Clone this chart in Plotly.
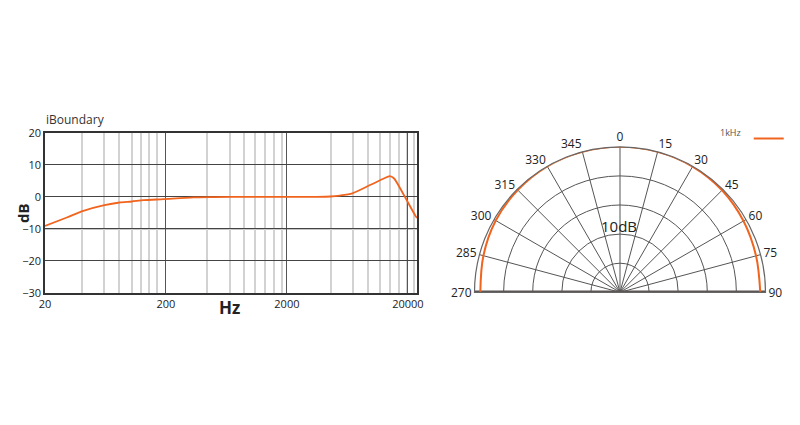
import plotly.graph_objects as go

# ---------------- data ----------------
freq_hz = [20, 30.3, 41.5, 62, 82.7, 104.5, 130.9, 190.6, 338, 500, 1000,
           2000, 3500, 4600, 5470, 6960, 9840, 12650, 14170, 15330, 18390,
           23380, 23800]
response_db = [-9.06, -6.46, -4.38, -2.6, -1.77, -1.46, -1.04, -0.73, -0.2,
               -0.1, 0.0, 0.0, 0.0, 0.1, 0.4, 1.1, 3.75, 5.7, 6.45, 5.8, 0.8,
               -6.25, -6.6]

x_tick_vals = [20, 200, 2000, 20000]
x_tick_text = ["20", "200", "2000", "20000"]
x_minor_vals = [40.7, 62, 82.4, 104.5, 125.4, 145, 168,
                436, 672, 877, 1094, 1325, 1574, 1821,
                4634, 7000, 9380, 11860, 14160, 16830, 19720, 22390]
y_tick_vals = [20, 10, 0, -10, -20, -30]

polar_angles = [270, 285, 300, 315, 330, 345, 0, 15, 30, 45, 60, 75, 90]
polar_tick_vals = [-90, -75, -60, -45, -30, -15, 0, 15, 30, 45, 60, 75, 90]
polar_labels = ["270", "285", "300", "315", "330", "345", "0", "15", "30",
                "45", "60", "75", "90"]
polar_1khz_db = [-2.0, -1.4, -0.7, -0.3, 0.0, 0.0, 0.0, 0.0, -0.1, -0.4,
                 -1.0, -1.6, -1.8]
polar_rings_db = [-40, -30, -20, -10]
polar_range_db = [-50, 0]
baseline_theta = [270, 0, 90]
baseline_r = [0, -50, 0]

ORANGE = "#f0641e"
FONT = "Open Sans"
W, H = 800, 425
OFF = 8  # page body offset


def px(x):
    return (x - OFF) / W


def py(y):
    return 1 - (y - OFF) / H


fig = go.Figure()

fig.add_trace(go.Scatter(
    x=freq_hz, y=response_db, mode="lines",
    line=dict(color=ORANGE, width=1.8, shape="spline", smoothing=0.7),
    showlegend=False, xaxis="x", yaxis="y"))

fig.add_trace(go.Scatterpolar(
    r=baseline_r, theta=baseline_theta, mode="lines",
    line=dict(color="#5a5252", width=3.5), showlegend=False,
    hoverinfo="skip", subplot="polar"))

fig.add_trace(go.Scatterpolar(
    r=polar_1khz_db, theta=polar_angles, mode="lines", name="",
    line=dict(color=ORANGE, width=2, shape="spline"),
    showlegend=True, subplot="polar"))

fig.update_layout(
    width=W, height=H,
    margin=dict(l=0, r=0, t=0, b=0, pad=0, autoexpand=False),
    paper_bgcolor="white", plot_bgcolor="white",
    font=dict(family=FONT, size=11, color="#222"),
    xaxis=dict(
        type="log", domain=[px(45), px(417)],
        range=[1.30103, 4.3766],
        tickmode="array", tickvals=x_tick_vals, ticktext=x_tick_text,
        showgrid=True, gridcolor="#555", gridwidth=1,
        minor=dict(tickmode="array", tickvals=x_minor_vals, showgrid=True,
                   gridcolor="#d2d2d2", gridwidth=1.5, ticks=""),
        showline=True, linecolor="#333", linewidth=1.5, mirror=True,
        ticks="", zeroline=False, automargin=False,
        tickfont=dict(size=11, color="#222"),
        anchor="y"),
    yaxis=dict(
        domain=[py(293), py(132.7)], range=[-30, 20],
        tickmode="array", tickvals=y_tick_vals,
        showgrid=True, gridcolor="#444", gridwidth=1,
        showline=True, linecolor="#333", linewidth=1.5, mirror=True,
        ticks="", zeroline=False, automargin=False,
        tickfont=dict(size=11, color="#222"),
        anchor="x"),
    polar=dict(
        domain=dict(x=[px(474.5), px(765.5)], y=[py(292.3), py(146.8)]),
        sector=[0, 180],
        bgcolor="white",
        radialaxis=dict(range=polar_range_db, tickmode="array",
                        tickvals=polar_rings_db, showticklabels=False,
                        ticks="", showline=False, showgrid=True,
                        gridcolor="#555", gridwidth=1),
        angularaxis=dict(rotation=90, direction="clockwise",
                         tickmode="array", tickvals=polar_tick_vals,
                         ticktext=polar_labels, ticks="",
                         showgrid=True, gridcolor="#555", gridwidth=1,
                         showline=True, linecolor="#666", linewidth=1.2,
                         tickfont=dict(size=12, color="#222")),
    ),
    legend=dict(
        x=px(718), y=py(124), xanchor="left", yanchor="top",
        bgcolor="rgba(0,0,0,0)",
        title=dict(text="1kHz", side="left",
                   font=dict(size=9, color="#555")),
        font=dict(size=9, color="#555"),
        itemwidth=30,
    ),
    shapes=[dict(type="line", xref="x domain", yref="y",
                 x0=0, x1=1, y0=-10, y1=-10,
                 line=dict(color="#c6c6c6", width=2), layer="below")],
    annotations=[
        dict(text="iBoundary", x=px(44), y=py(119), xref="paper", yref="paper",
             xanchor="left", yanchor="middle", showarrow=False,
             font=dict(size=12, color="#333")),
        dict(text="<b>dB</b>", x=px(23), y=py(213), xref="paper", yref="paper",
             xanchor="center", yanchor="middle", showarrow=False,
             textangle=-90, font=dict(size=15, color="#222")),
        dict(text="<b>Hz</b>", x=px(229), y=py(307), xref="paper", yref="paper",
             xanchor="center", yanchor="middle", showarrow=False,
             font=dict(size=17, color="#222")),
        dict(text="10dB", x=px(619), y=py(226), xref="paper", yref="paper",
             xanchor="center", yanchor="middle", showarrow=False,
             font=dict(size=15, color="#222")),
    ],
)

fig.write_html("out.html")
